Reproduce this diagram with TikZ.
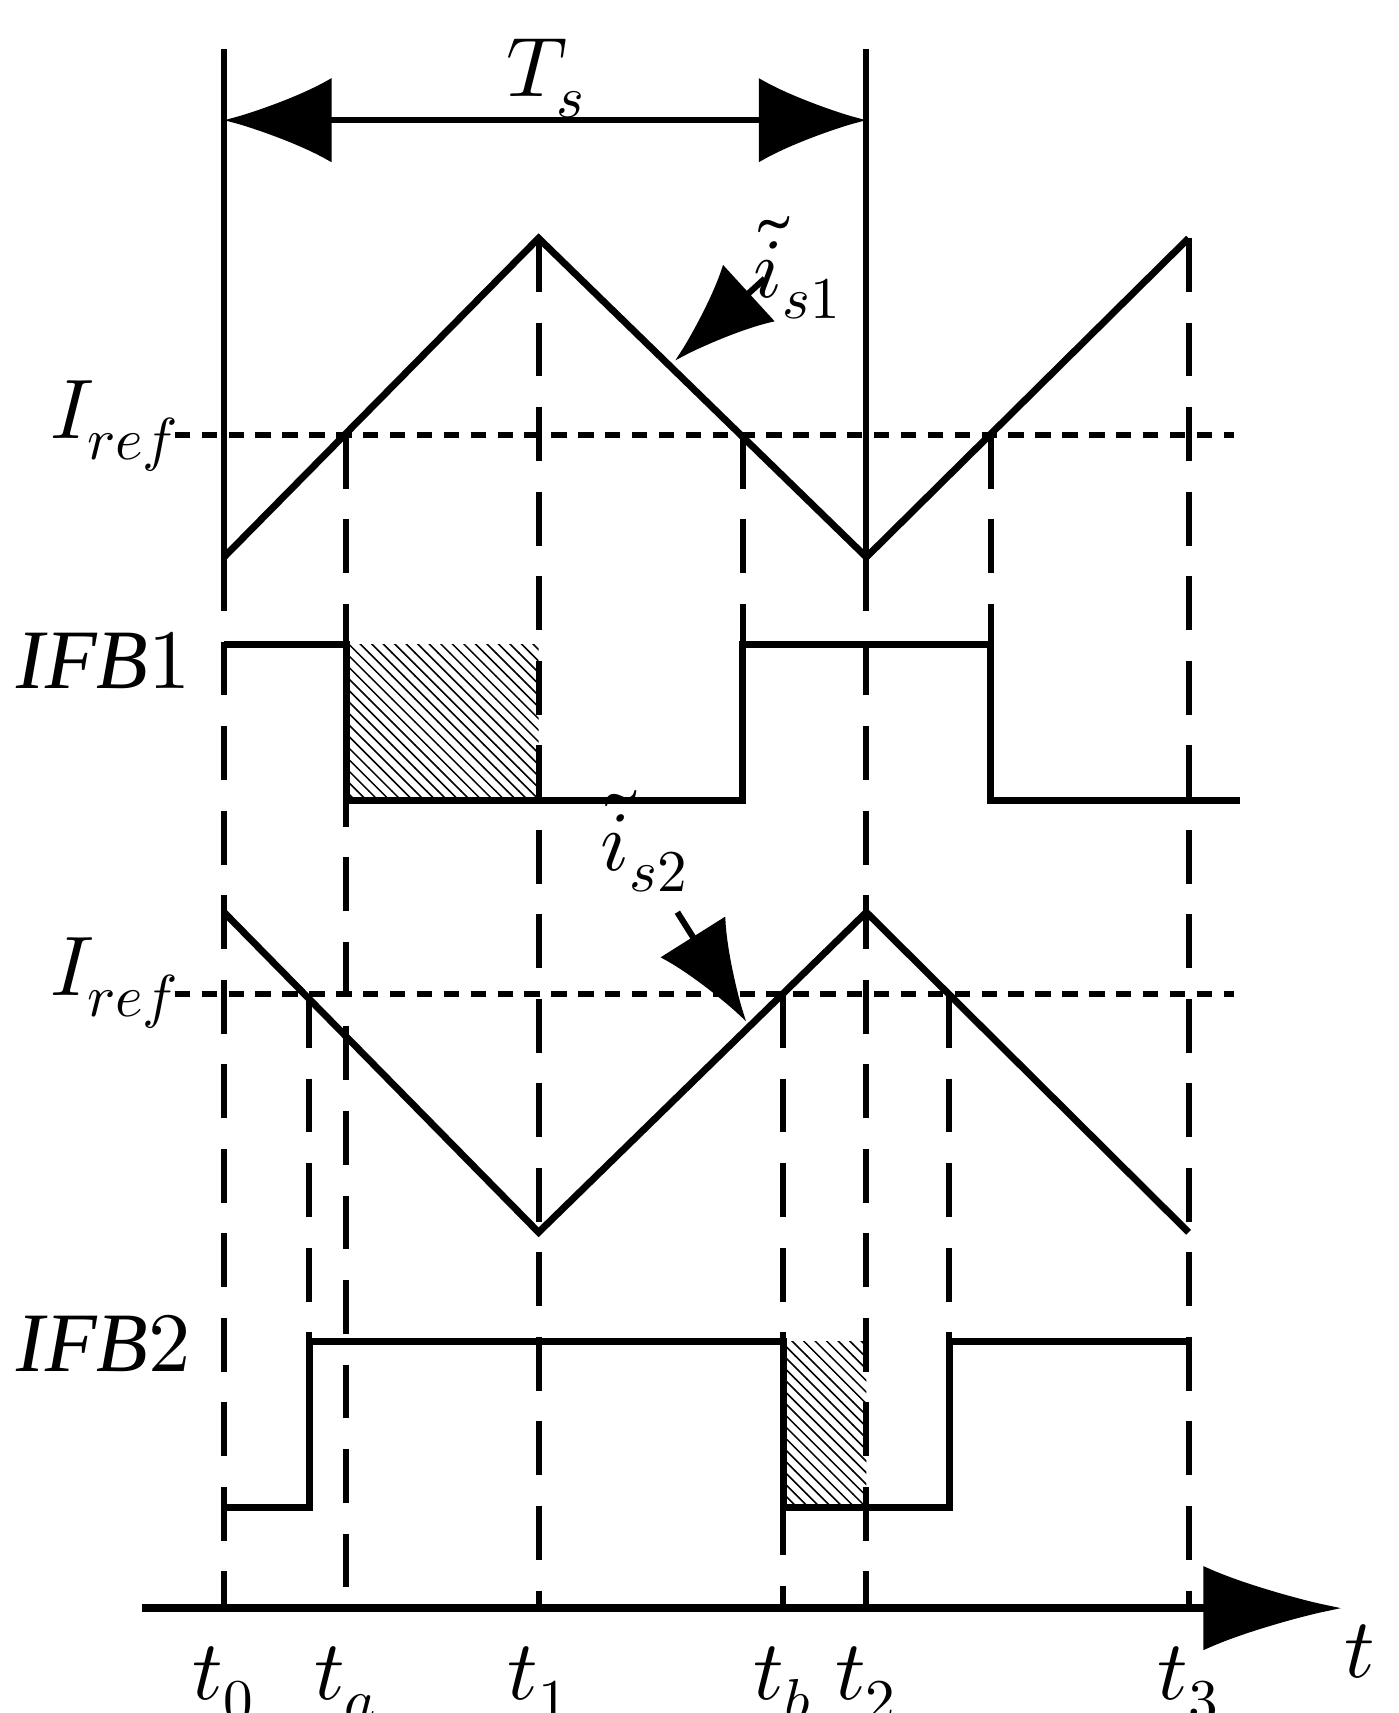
\documentclass[tikz,border=0pt]{standalone}
\usepackage{fontspec}
\setmainfont{Liberation Serif}
\usepackage{unicode-math}
\setmathfont{Latin Modern Math}
\usetikzlibrary{patterns,arrows.meta,calc,positioning}
\begin{document}
\begin{tikzpicture}[x=0.01cm,y=-0.01cm,line width=1.6pt,
wave/.style={line width=1.8pt},
guide/.style={dash pattern=on 14pt off 8pt,line width=1.6pt},
refline/.style={dash pattern=on 4pt off 3pt,line width=1.6pt},
hatch/.style={pattern=north west lines,draw=none},
lbl/.style={font=\fontsize{22}{24}\selectfont}]
\useasboundingbox (0,0) rectangle (1280,1568);
% time marks
\foreach \n/\x in {t0/205,ta/317,t1/493,tb/717,t2/793,t3/1088}
  \coordinate (\n) at (\x,1472);
% period
\draw (205,45) -- (205,510);
\draw (793,45) -- (793,510);
\coordinate (Ts0) at (205,110);
\coordinate (Ts1) at (793,110);
\draw[-{Latex[length=28pt,width=22pt]}] ($(Ts0)!0.5!(Ts1)$) -- (Ts1);
\draw[-{Latex[length=28pt,width=22pt]}] ($(Ts0)!0.5!(Ts1)$) -- (Ts0);
\node[lbl] (Ts) at (500,72) {$T_s$};
% current 1
\draw[refline] (160,398) -- (1130,398);
\draw[wave] (205,510) -- (493,218) -- (793,510) -- (1088,218);
\node[lbl] (Iref1) at (105,390) {$I_{ref}$};
\node[lbl] (is1) at (730,245) {$\tilde{i}_{s1}$};
\draw[-{Latex[length=26pt,width=20pt]}] (700,255) -- (618,330);
% IFB1
\fill[hatch] (317,590) rectangle (493,733);
\draw[wave] (205,590) -- (317,590) -- (317,733) -- (680,733) -- (680,590)
  -- (907,590) -- (907,733) -- (1135,733);
\node[lbl] (ifb1) at (95,605) {$\mathit{IFB}1$};
% current 2
\draw[refline] (160,910) -- (1130,910);
\draw[wave] (205,835) -- (493,1128) -- (793,835) -- (1088,1128);
\node[lbl] (Iref2) at (105,900) {$I_{ref}$};
\node[lbl] (is2) at (590,770) {$\tilde{i}_{s2}$};
\draw[-{Latex[length=26pt,width=20pt]}] (620,835) -- (683,935);
% IFB2
\fill[hatch] (717,1228) rectangle (793,1380);
\draw[wave] (205,1380) -- (283,1380) -- (283,1228) -- (717,1228) -- (717,1380)
  -- (869,1380) -- (869,1228) -- (1088,1228);
\node[lbl] (ifb2) at (95,1230) {$\mathit{IFB}2$};
% guides
\draw[guide] (205,510) -- (t0);
\draw[guide] (317,398) -- (ta);
\draw[guide] (493,218) -- (t1);
\draw[guide] (717,910) -- (tb);
\draw[guide] (793,510) -- (t2);
\draw[guide] (1088,218) -- (t3);
\draw[guide] (680,398) -- (680,590);
\draw[guide] (907,398) -- (907,590);
\draw[guide] (283,910) -- (283,1380);
\draw[guide] (869,910) -- (869,1228);
% axis
\draw[line width=2pt,-{Latex[length=36pt,width=22pt]}] (130,1472) -- (1228,1472);
\foreach \n/\s in {t0/t_0,ta/t_a,t1/t_1,tb/t_b,t2/t_2,t3/t_3}
  \node[lbl,below=6pt of \n] {$\s$};
\node[lbl] (tax) at (1245,1512) {$t$};
\end{tikzpicture}
\end{document}
